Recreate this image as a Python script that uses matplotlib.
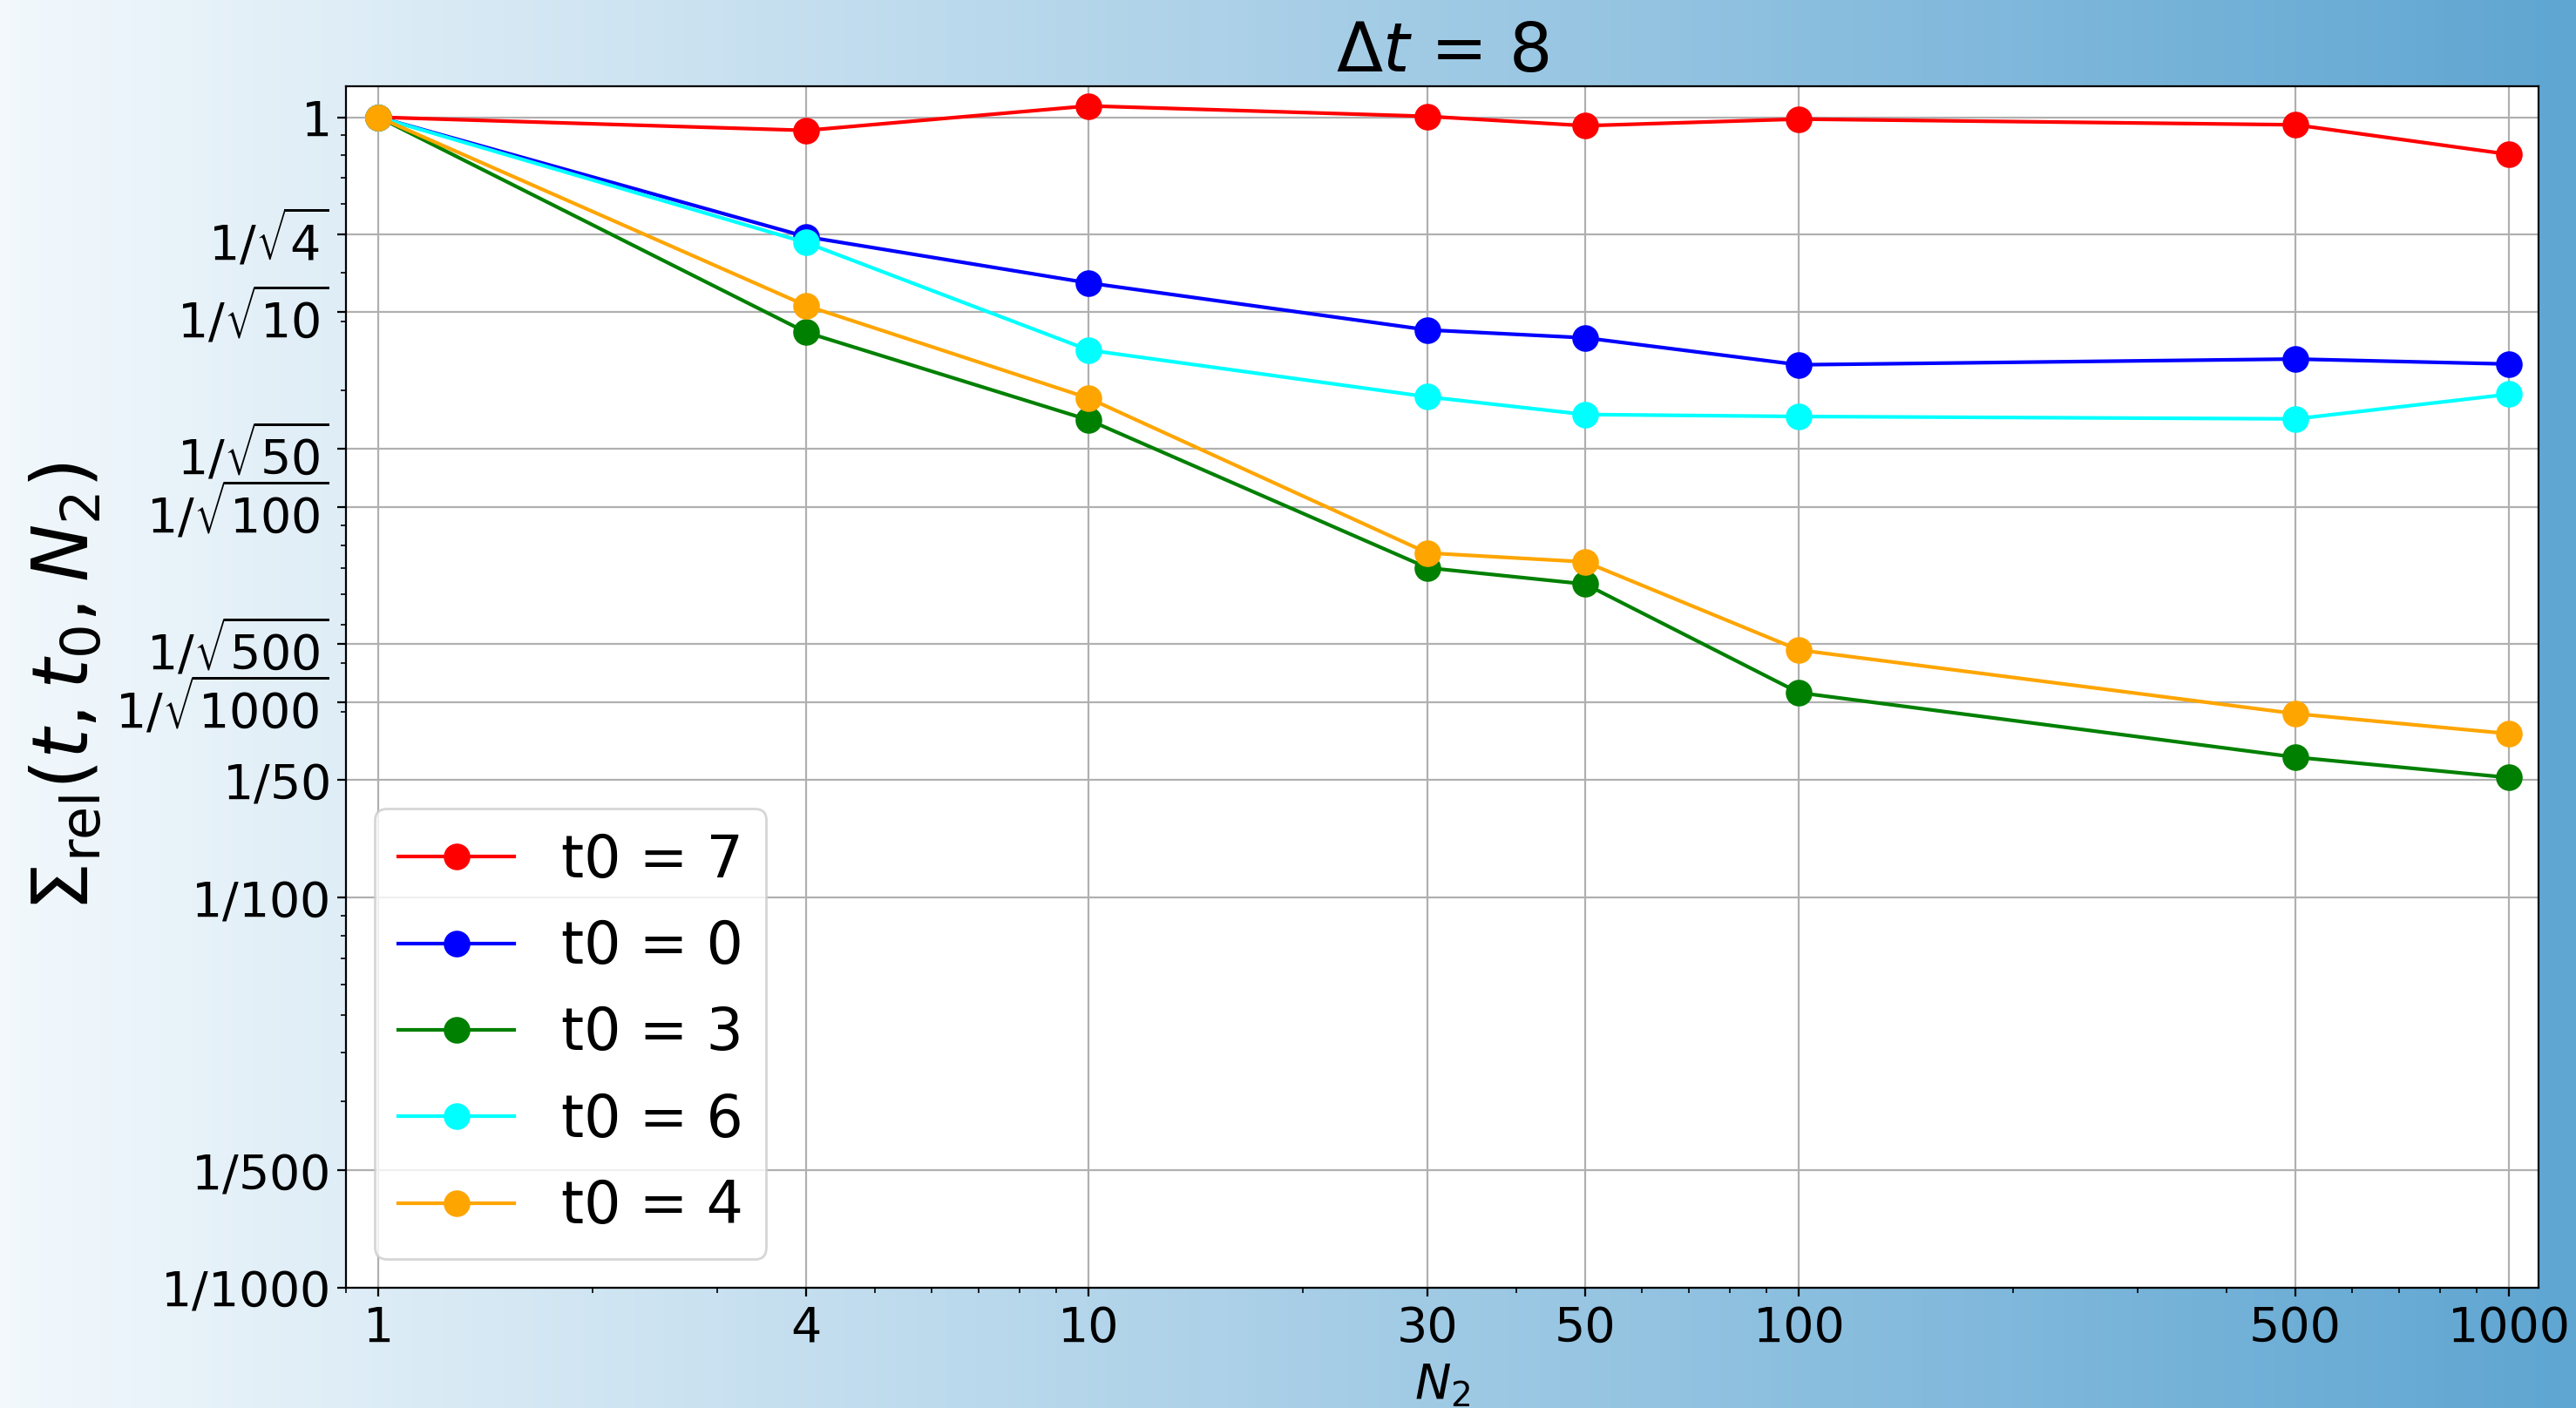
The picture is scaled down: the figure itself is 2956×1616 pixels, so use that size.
import matplotlib
matplotlib.use("Agg")
import matplotlib.pyplot as plt
import numpy as np
from matplotlib.colors import LinearSegmentedColormap
from matplotlib.ticker import NullFormatter

# data
N2 = [1, 4, 10, 30, 50, 100, 500, 1000]
t0_labels = ["t0 = 7", "t0 = 0", "t0 = 3", "t0 = 6", "t0 = 4"]
colors = ["red", "blue", "green", "cyan", "orange"]
sig_t7 = [1.0, 0.925, 1.069, 1.005, 0.951, 0.989, 0.956, 0.803]
sig_t0 = [1.0, 0.494, 0.376, 0.285, 0.272, 0.232, 0.240, 0.233]
sig_t3 = [1.0, 0.281, 0.1675, 0.0700, 0.0636, 0.0335, 0.0229, 0.0203]
sig_t6 = [1.0, 0.477, 0.253, 0.192, 0.173, 0.171, 0.1686, 0.195]
sig_t4 = [1.0, 0.329, 0.1905, 0.0764, 0.0725, 0.0431, 0.0296, 0.0263]
series = [sig_t7, sig_t0, sig_t3, sig_t6, sig_t4]

xticks = [1, 4, 10, 30, 50, 100, 500, 1000]
ydenoms_sqrt = [4, 10, 50, 100, 500, 1000]
ydenoms = [50, 100, 500, 1000]

fig = plt.figure(figsize=(14.78, 8.08), dpi=200)

# gradient background
bg = fig.add_axes([0, 0, 1, 1])
cmap = LinearSegmentedColormap.from_list("bg", ["#f2f8fc", "#5fa6d2"])
bg.imshow(np.linspace(0, 1, 512)[None, :], aspect="auto", cmap=cmap,
          extent=[0, 1, 0, 1])
bg.axis("off")
bg.set_zorder(-1)

ax = fig.add_axes([0.1343, 0.0854, 0.9855 - 0.1343, 0.9387 - 0.0854])
ax.set_facecolor("white")

for vals, c, lab in zip(series, colors, t0_labels):
    ax.plot(N2, vals, "-o", color=c, lw=1.5, markersize=10, label=lab)

ax.set_xscale("log")
ax.set_yscale("log")
ax.set_xlim(0.9, 1100)
ax.set_ylim(0.001, 1.2)

ax.set_xticks(xticks)
ax.set_xticklabels([str(x) for x in xticks])

yt = [1.0] + [1 / np.sqrt(d) for d in ydenoms_sqrt] + [1 / d for d in ydenoms]
ylab = ["$1$"] + [r"$1/\sqrt{%d}$" % d for d in ydenoms_sqrt] + ["$1/%d$" % d for d in ydenoms]
ax.set_yticks(yt)
ax.set_yticklabels(ylab)
ax.xaxis.set_minor_formatter(NullFormatter())
ax.yaxis.set_minor_formatter(NullFormatter())
ax.tick_params(axis="both", which="major", labelsize=20)

ax.grid(True)
ax.set_title(r"$\Delta t$ = 8", fontsize=28)
ax.set_xlabel(r"$N_2$", fontsize=20)
ax.set_ylabel(r"$\Sigma_{\rm rel}(t, t_0, N_2)$", fontsize=32)
ax.legend(loc="lower left", fontsize=24)

fig.savefig("out.png", dpi=200)
